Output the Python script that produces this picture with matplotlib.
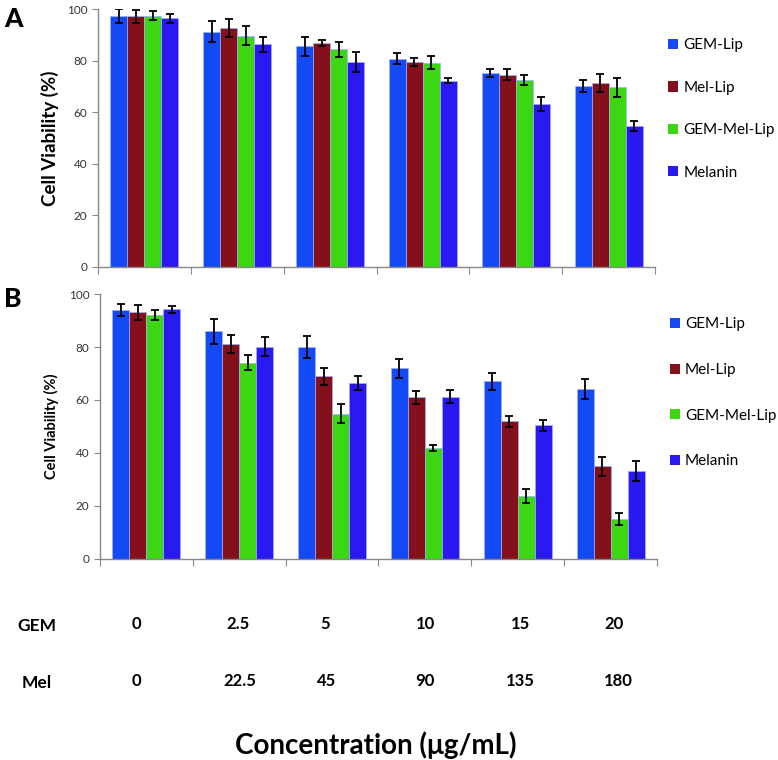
import matplotlib
matplotlib.use("Agg")
import matplotlib.pyplot as plt
from matplotlib.patches import Patch
import numpy as np

plt.rcParams['font.family'] = ['Lato', 'DejaVu Sans']

series = ["GEM-Lip", "Mel-Lip", "GEM-Mel-Lip", "Melanin"]
colors = ["#1449F8", "#84101C", "#3DD612", "#2A18F0"]
gem_conc = ["0", "2.5", "5", "10", "15", "20"]
mel_conc = ["0", "22.5", "45", "90", "135", "180"]

a_gem_lip = [97.3, 91.3, 85.6, 80.8, 75.2, 70.3]
a_mel_lip = [97.3, 92.6, 87.0, 79.5, 74.6, 71.5]
a_gem_mel_lip = [97.5, 89.7, 84.4, 79.2, 72.6, 69.6]
a_melanin = [96.5, 86.3, 79.4, 72.2, 63.2, 54.5]
a_gem_lip_err = [2.8, 4.0, 3.7, 2.2, 1.7, 2.3]
a_mel_lip_err = [2.5, 3.4, 1.2, 1.5, 2.3, 3.5]
a_gem_mel_lip_err = [1.6, 3.7, 2.9, 2.5, 2.0, 3.6]
a_melanin_err = [1.7, 3.0, 3.8, 1.0, 2.7, 2.0]

b_gem_lip = [94.0, 85.9, 80.0, 72.0, 67.0, 64.1]
b_mel_lip = [93.1, 81.1, 68.9, 61.0, 51.9, 34.9]
b_gem_mel_lip = [92.1, 74.1, 54.8, 41.8, 23.7, 14.9]
b_melanin = [94.3, 80.1, 66.4, 61.2, 50.4, 33.1]
b_gem_lip_err = [2.3, 4.6, 4.0, 3.6, 3.1, 3.8]
b_mel_lip_err = [2.7, 3.3, 3.3, 2.5, 2.1, 3.5]
b_gem_mel_lip_err = [1.8, 2.9, 3.6, 1.0, 2.7, 2.2]
b_melanin_err = [1.3, 3.6, 2.8, 2.4, 2.1, 3.8]

fig = plt.figure(figsize=(7.78, 7.6), dpi=100)
axA = fig.add_axes([0.126, 0.649, 0.716, 0.339])
axB = fig.add_axes([0.1285, 0.265, 0.716, 0.348])

x = np.arange(len(gem_conc))
w = 0.183
ek = dict(ecolor="black", elinewidth=1.3, capsize=3, capthick=1.3)

def draw(ax, vals, errs, ylabel_size, pad):
    for i, (v, e) in enumerate(zip(vals, errs)):
        ax.bar(x + (i - 1.5) * w, v, w, yerr=e, color=colors[i],
               edgecolor="#9db0ff", linewidth=0.5, error_kw=ek, zorder=2)
    ax.set_xlim(-0.5, 5.5)
    ax.set_ylim(0, 100)
    ax.set_yticks([0, 20, 40, 60, 80, 100])
    ax.set_xticks(np.arange(-0.5, 6.0, 1.0))
    ax.set_xticklabels([])
    ax.tick_params(axis="x", direction="out", length=5, color="#888888")
    ax.tick_params(axis="y", direction="out", length=4, color="#888888",
                   labelsize=8.5, labelcolor="#333333")
    for s in ["top", "right"]:
        ax.spines[s].set_visible(False)
    for s in ["left", "bottom"]:
        ax.spines[s].set_color("#888888")
        ax.spines[s].set_linewidth(1.0)
    ax.set_ylabel("Cell Viability (%)", fontsize=ylabel_size, fontweight="bold",
                  labelpad=pad)
    handles = [Patch(facecolor=c, edgecolor="none") for c in colors]
    return handles

hA = draw(axA, [a_gem_lip, a_mel_lip, a_gem_mel_lip, a_melanin],
          [a_gem_lip_err, a_mel_lip_err, a_gem_mel_lip_err, a_melanin_err], 13.5, 6)
hB = draw(axB, [b_gem_lip, b_mel_lip, b_gem_mel_lip, b_melanin],
          [b_gem_lip_err, b_mel_lip_err, b_gem_mel_lip_err, b_melanin_err], 10.5, 7)

for ax, h, anc, sp in [(axA, hA, 0.91, 1.86), (axB, hB, 0.935, 2.07)]:
    ax.legend(h, series, loc="upper left", bbox_to_anchor=(1.012, anc),
              frameon=False, fontsize=11, handlelength=0.65, handleheight=0.65,
              handletextpad=0.35, labelspacing=sp, borderaxespad=0)

fig.text(0.005, 0.975, "A", fontsize=19, fontweight=900, va="center")
fig.text(0.005, 0.607, "B", fontsize=19, fontweight=900, va="center")

gx = [136, 238, 325, 425, 520, 614]
mx = [136, 240, 327, 425, 520, 618]
fig.text(37 / 778, 1 - 626 / 760, "GEM", fontsize=12.5, fontweight="bold",
         ha="center", va="center")
fig.text(37 / 778, 1 - 683 / 760, "Mel", fontsize=12.5, fontweight="bold",
         ha="center", va="center")
for xi, g in zip(gx, gem_conc):
    fig.text(xi / 778, 1 - 624 / 760, g, fontsize=12, fontweight="bold",
             ha="center", va="center")
for xi, m in zip(mx, mel_conc):
    fig.text(xi / 778, 1 - 681 / 760, m, fontsize=12, fontweight="bold",
             ha="center", va="center")
fig.text(376 / 778, 1 - 745 / 760, "Concentration (\u03bcg/mL)", fontsize=20,
         fontweight="bold", ha="center", va="center")

fig.savefig("out.png", dpi=100, facecolor="white")
